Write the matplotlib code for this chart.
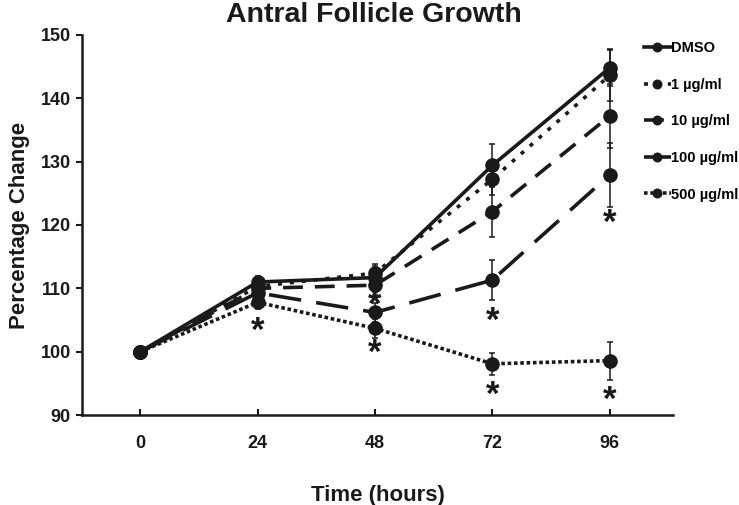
import matplotlib
matplotlib.use("Agg")
import matplotlib.pyplot as plt

plt.rcParams["font.family"] = ["Liberation Sans", "DejaVu Sans"]
plt.rcParams["font.weight"] = "bold"

INK = "#1a1a1a"

hours = [0, 24, 48, 72, 96]
labels = ["DMSO", "1 \u00b5g/ml", "10 \u00b5g/ml", "100 \u00b5g/ml", "500 \u00b5g/ml"]

dmso = [100, 111.0, 111.7, 129.4, 144.8]
dmso_err = [0, 1.0, 2.2, 3.4, 2.9]
ug1 = [100, 110.3, 112.4, 127.2, 143.6]
ug1_err = [0, 1.0, 1.2, 2.5, 4.0]
ug10 = [100, 110.0, 110.5, 122.1, 137.2]
ug10_err = [0, 1.0, 1.5, 4.0, 5.0]
ug100 = [100, 109.3, 106.2, 111.3, 127.9]
ug100_err = [0, 1.2, 1.5, 3.2, 5.0]
ug500 = [100, 107.8, 103.7, 98.1, 98.6]
ug500_err = [0, 1.0, 1.5, 1.7, 3.0]

# significance markers (centre of each asterisk)
star_x = [24, 48, 48, 72, 72, 96, 96]
star_y = [104.6, 108.7, 101.1, 106.1, 94.5, 121.6, 93.7]

series = [dmso, ug1, ug10, ug100, ug500]
errors = [dmso_err, ug1_err, ug10_err, ug100_err, ug500_err]
styles = [
    "-",
    (0, (1.1, 2.2)),
    (0, (5.5, 3.3)),
    (0, (9.0, 4.2)),
    (0, (1.0, 0.75)),
]

fig = plt.figure(figsize=(7.39, 5.05), dpi=100)
ax = fig.add_axes([0.111, 0.178, 0.8, 0.753])

for vals, err, ls, lab in zip(series, errors, styles, labels):
    ax.errorbar(hours, vals, yerr=err, fmt="none", ecolor=INK, elinewidth=1.1,
                capsize=2, capthick=1.1, zorder=2)
    ax.plot(hours, vals, color=INK, lw=2.6, ls=ls, marker="o", ms=9.5,
            dash_capstyle="butt", label=lab, zorder=3)

# asterisk glyph sits high in the em box, so drop the baseline by ~half an em
STAR_FS = 25
for sx, sy in zip(star_x, star_y):
    ax.annotate("*", (sx, sy), xytext=(0, -0.52 * STAR_FS), textcoords="offset points",
                ha="center", va="baseline", fontsize=STAR_FS, fontweight="bold",
                color=INK, zorder=4)

ax.set_xlim(-11.9, 109)
ax.set_ylim(90, 150)
ax.set_xticks(hours)
ax.set_yticks(range(90, 151, 10))
ax.spines[["top", "right"]].set_visible(False)
for s in ("left", "bottom"):
    ax.spines[s].set_linewidth(1.8)
    ax.spines[s].set_color(INK)
ax.tick_params(axis="y", direction="out", length=4, width=1.5, labelsize=13, colors=INK, pad=4)
ax.tick_params(axis="x", direction="in", length=4, width=1.5, labelsize=13, colors=INK, pad=14)

ax.set_xlabel("Time (hours)", fontsize=16, fontweight="bold", color=INK, labelpad=24)
ax.set_ylabel("Percentage Change", fontsize=16, fontweight="bold", color=INK, labelpad=8)
fig.suptitle("Antral Follicle Growth", x=0.506, y=0.997, fontsize=20.5, fontweight="bold", color=INK)

ax.legend(loc="upper left", bbox_to_anchor=(0.862, 0.933), bbox_transform=fig.transFigure,
          frameon=False, fontsize=10.5, handlelength=1.8, handletextpad=0.05,
          labelspacing=1.55, borderpad=0, numpoints=1, markerscale=0.65)

fig.savefig("out.png", dpi=100)
